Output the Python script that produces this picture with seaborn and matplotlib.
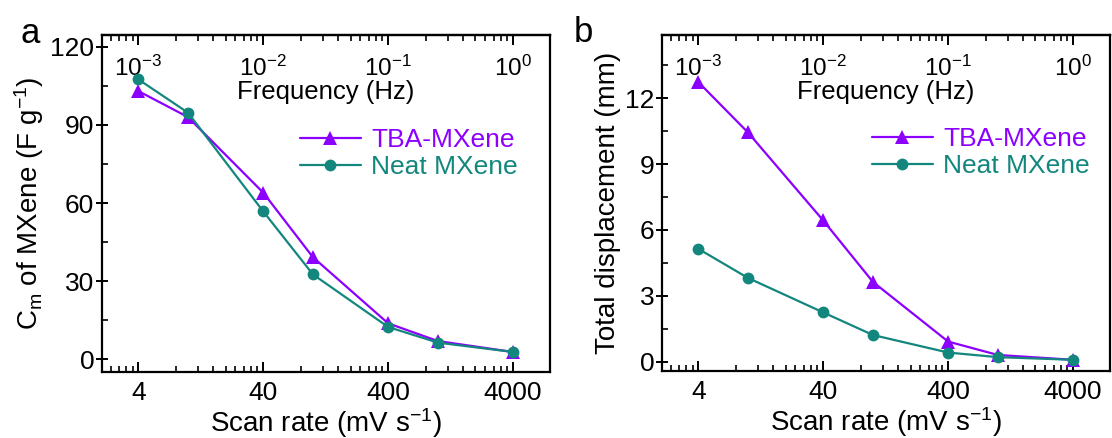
import numpy as np
import pandas as pd
import matplotlib
matplotlib.use("Agg")
import matplotlib.pyplot as plt
import seaborn as sns
from matplotlib.ticker import FixedLocator, NullFormatter, AutoMinorLocator, LogFormatterSciNotation

# data
scan_rate = [4, 10, 40, 100, 400, 1000, 4000]
series = ["TBA-MXene", "Neat MXene"]
cap_tba = [103.0, 93.0, 64.0, 39.2, 13.8, 7.0, 2.8]
cap_neat = [107.5, 94.7, 56.8, 32.6, 12.4, 6.4, 2.8]
disp_tba = [12.74, 10.44, 6.43, 3.63, 0.91, 0.30, 0.08]
disp_neat = [5.14, 3.81, 2.24, 1.21, 0.41, 0.20, 0.08]

x_major = [4, 40, 400, 4000]
x_major_labels = ["4", "40", "400", "4000"]
freq_major = [1e-3, 1e-2, 1e-1, 1e0]

palette = {"TBA-MXene": "#8C00FF", "Neat MXene": "#13877E"}
markers = {"TBA-MXene": "^", "Neat MXene": "o"}


def long_frame(tba, neat):
    return pd.DataFrame({
        "scan": scan_rate + scan_rate,
        "value": tba + neat,
        "sample": [series[0]] * len(tba) + [series[1]] * len(neat),
    })


sns.set_style("ticks")
plt.rcParams["font.family"] = ["Liberation Sans", "DejaVu Sans"]
plt.rcParams["mathtext.fontset"] = "custom"
plt.rcParams["mathtext.rm"] = "Liberation Sans"
plt.rcParams["mathtext.it"] = "Liberation Sans:italic"
plt.rcParams["mathtext.default"] = "regular"
for key in ["text.color", "axes.labelcolor", "xtick.color", "ytick.color", "axes.edgecolor"]:
    plt.rcParams[key] = "black"


def panel(ax, df, ylim, yticks, ylabel, letter, leg_x):
    sns.lineplot(
        data=df, x="scan", y="value", hue="sample", style="sample",
        hue_order=series, style_order=series, palette=palette,
        markers=markers, dashes=False, linewidth=1.6, markersize=10.5,
        markeredgewidth=0, ax=ax,
    )
    for line in ax.lines:
        if line.get_marker() == "o":
            line.set_markersize(8.5)

    ax.set_xscale("log")
    ax.set_xlim(2.05, 7900)
    ax.set_ylim(*ylim)
    ax.xaxis.set_major_locator(FixedLocator(x_major))
    ax.set_xticklabels(x_major_labels)
    minor = [0.4 * k * 10 ** n for n in range(0, 4) for k in range(2, 10)]
    ax.xaxis.set_minor_locator(FixedLocator(minor))
    ax.xaxis.set_minor_formatter(NullFormatter())
    ax.set_yticks(yticks)
    ax.yaxis.set_minor_locator(AutoMinorLocator(2))

    ax.tick_params(axis="x", which="major", direction="in", length=7, width=1.4,
                   labelsize=19, pad=6, top=False)
    ax.tick_params(axis="x", which="minor", direction="in", length=4, width=1.2, top=False)
    ax.tick_params(axis="y", which="major", direction="inout", length=9, width=1.4,
                   labelsize=19, pad=1, right=False)
    ax.tick_params(axis="y", which="minor", direction="in", length=4, width=1.2, right=False)
    for s in ax.spines.values():
        s.set_linewidth(1.6)

    ax.set_xlabel(r"Scan rate (mV s$^{-1}$)", fontsize=20, labelpad=1)
    ax.set_ylabel(ylabel, fontsize=20, labelpad=3)

    # frequency axis on top, labels drawn inside the frame
    sec = ax.secondary_xaxis("top", functions=(lambda x: x / 4000.0, lambda f: f * 4000.0))
    sec.xaxis.set_major_locator(FixedLocator(freq_major))
    sec.xaxis.set_major_formatter(LogFormatterSciNotation())
    fminor = [k * 10.0 ** n for n in range(-4, 1) for k in range(2, 10)]
    sec.xaxis.set_minor_locator(FixedLocator(fminor))
    sec.xaxis.set_minor_formatter(NullFormatter())
    sec.tick_params(which="major", direction="in", length=7, width=1.4, labelsize=17.5, pad=-33)
    sec.tick_params(which="minor", direction="in", length=4, width=1.2)
    sec.spines["top"].set_linewidth(1.6)
    sec.set_xlabel("Frequency (Hz)", fontsize=18.5)
    sec.xaxis.set_label_coords(0.5, 0.81, transform=ax.transAxes)

    ax.legend(loc="upper left", bbox_to_anchor=(leg_x, 0.725), frameon=False,
              fontsize=19, handlelength=2.3, handletextpad=0.4,
              labelspacing=0.12, borderaxespad=0, borderpad=0,
              labelcolor="linecolor")
    ax.text(-0.16 if letter == "a" else -0.175, 1.005, letter, transform=ax.transAxes,
            fontsize=25, ha="center", va="center")


fig = plt.figure(figsize=(11.12, 4.38), dpi=100)
ax_a = fig.add_axes([0.0917, 0.150, 0.4029, 0.770])
ax_b = fig.add_axes([0.5953, 0.152, 0.4029, 0.769])

panel(ax_a, long_frame(cap_tba, cap_neat), (-5, 124.5), [0, 30, 60, 90, 120],
      r"C$_\mathrm{m}$ of MXene (F g$^{-1}$)", "a", 0.442)
panel(ax_b, long_frame(disp_tba, disp_neat), (-0.45, 14.9), [0, 3, 6, 9, 12],
      "Total displacement (mm)", "b", 0.469)

fig.savefig("out.png", dpi=100)
